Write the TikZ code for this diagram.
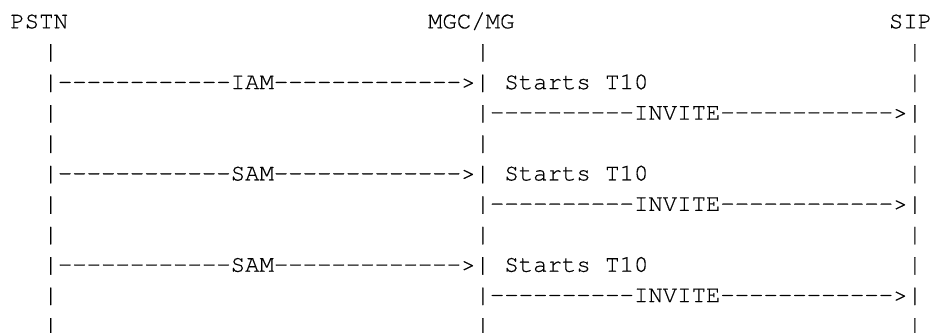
\documentclass[tikz,border=0pt]{standalone}
\usepackage{fontspec}
\newfontfamily\asciifont{TeX Gyre Cursor}[FakeBold=0.4]
\tikzset{
  txt/.style={font=\asciifont\fontsize{24}{24}\selectfont, inner sep=0pt, outer sep=0pt, anchor=base west, text=black}
}
\begin{document}
\begin{tikzpicture}
\useasboundingbox (0pt,0pt) rectangle (941pt,-332pt);
\begin{scope}[shift={(0.3pt,-28.3pt)}, x=14.402pt, y=-30.43pt]
  % header
  \node[txt] (pstn) at (0.7,0) {PSTN};
  \node[txt] (mgc)  at (29.7,0) {MGC/MG};
  \node[txt] (sip)  at (61.7,0) {SIP};
  % row 1
  \node[txt] (a1) at (3,1) {|};
  \node[txt] (b1) at (33,1) {|};
  \node[txt] (c1) at (63,1) {|};
  % row 2
  \node[txt] (iam) at (3,2) {|------------IAM------------->|};
  \node[txt] (t1)  at (35,2) {Starts T10};
  \node[txt] (c2)  at (63,2) {|};
  % row 3
  \node[txt] (a3) at (3,3) {|};
  \node[txt] (inv1) at (33,3) {|----------INVITE------------>|};
  % row 4
  \node[txt] (a4) at (3,4) {|};
  \node[txt] (b4) at (33,4) {|};
  \node[txt] (c4) at (63,4) {|};
  % row 5
  \node[txt] (sam1) at (3,5) {|------------SAM------------->|};
  \node[txt] (t2)  at (35,5) {Starts T10};
  \node[txt] (c5)  at (63,5) {|};
  % row 6
  \node[txt] (a6) at (3,6) {|};
  \node[txt] (inv2) at (33,6) {|----------INVITE------------>|};
  % row 7
  \node[txt] (a7) at (3,7) {|};
  \node[txt] (b7) at (33,7) {|};
  \node[txt] (c7) at (63,7) {|};
  % row 8
  \node[txt] (sam2) at (3,8) {|------------SAM------------->|};
  \node[txt] (t3)  at (35,8) {Starts T10};
  \node[txt] (c8)  at (63,8) {|};
  % row 9
  \node[txt] (a9) at (3,9) {|};
  \node[txt] (inv3) at (33,9) {|----------INVITE------------>|};
  % row 10
  \node[txt] (a10) at (3,10) {|};
  \node[txt] (b10) at (33,10) {|};
  \node[txt] (c10) at (63,10) {|};
\end{scope}
\end{tikzpicture}
\end{document}
